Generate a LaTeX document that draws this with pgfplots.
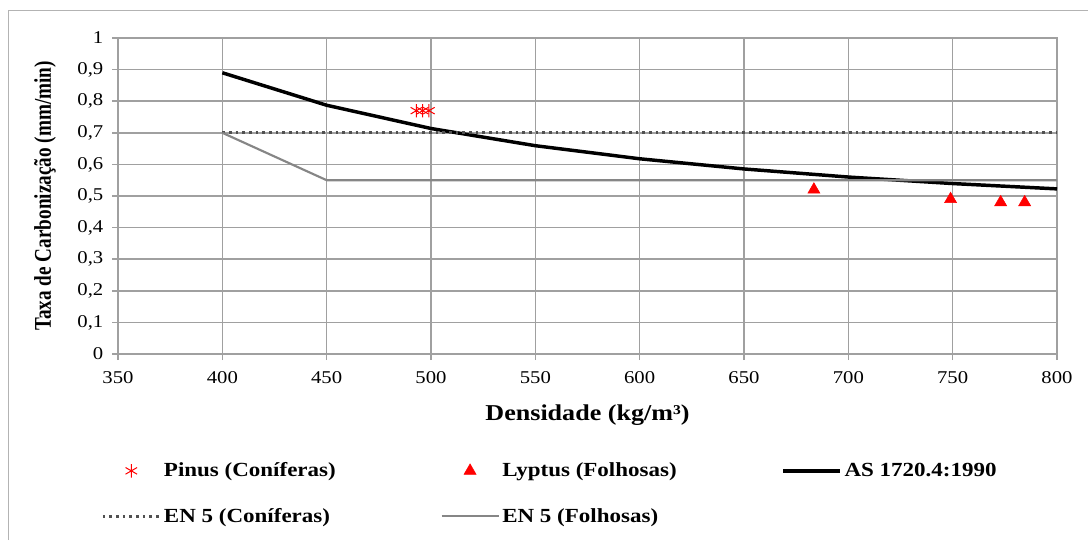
\documentclass[border=0pt]{standalone}
\usepackage{fontspec}
\setmainfont{Liberation Serif}[FakeStretch=1.15]
\newfontfamily\ylabfont{Liberation Serif}[FakeStretch=0.8]
\usepackage{pgfplots}
\pgfplotsset{compat=1.18}
\definecolor{gridgray}{RGB}{160,160,160}
\definecolor{folgray}{RGB}{134,134,134}
\definecolor{dotgray}{RGB}{80,80,80}

\begin{document}
\begin{tikzpicture}[x=0.75pt,y=0.75pt]
\useasboundingbox (0,0) rectangle (1088,540);
\draw[gridgray!80, line width=0.75pt] (8,0) -- (8,529) -- (1088,529);
\begin{axis}[
  at={(88.5pt,139.5pt)}, anchor=south west,
  scale only axis, width=704.25pt, height=237pt,
  xmin=350, xmax=800, ymin=0, ymax=1,
  xtick={350,400,450,500,550,600,650,700,750,800},
  ytick={0,0.1,0.2,0.3,0.4,0.5,0.6,0.7,0.8,0.9,1},
  /pgf/number format/.cd, use comma, 1000 sep={}, assume math mode=true,
  /pgfplots/.cd,
  tick label style={font=\fontsize{13.5}{15}\selectfont, text=black},
  xticklabel style={yshift=-5pt},
  yticklabel style={xshift=-3pt},
  axis line style={gridgray, line width=1.1pt},
  grid=major,
  major grid style={gridgray, line width=1.1pt},
  tick align=outside, xtick pos=left, ytick pos=left,
  major tick length=4.5pt,
  tick style={gridgray, line width=1.1pt},
  clip=false,
  xlabel={Densidade (kg/m³)},
  xlabel style={at={(axis description cs:0.5,-0.193)}, anchor=center,
    font=\bfseries\fontsize{17}{20}\selectfont},
  ylabel={\ylabfont\bfseries Taxa de Carbonização (mm/min)},
  ylabel style={at={(axis description cs:-0.0777,0.5)}, anchor=center,
    font=\fontsize{18}{20}\selectfont},
  legend columns=3,
  legend cell align=left,
  legend image code/.code={\draw[mark repeat=2,mark phase=2,#1]
    plot coordinates {(0pt,0pt) (21.375pt,0pt) (42.75pt,0pt)};},
  legend style={at={(axis description cs:-0.018,-0.335)}, anchor=north west,
    draw=none, fill=none, inner sep=0pt, row sep=18pt,
    font=\bfseries\fontsize{15}{17}\selectfont,
    /tikz/every even column/.append style={column sep=76.5pt}},
]
\addplot[only marks, mark=asterisk, mark size=5pt, red, line width=0.75pt]
  coordinates {(493,0.77) (496,0.77) (499,0.77)};
\addlegendentry{Pinus (Coníferas)}
\addplot[only marks, mark=triangle*, mark size=5.2pt, red]
  coordinates {(683.5,0.52) (749,0.49) (773,0.48) (784.5,0.48)};
\addlegendentry{Lyptus (Folhosas)}
\addplot[black, line width=2.6pt, mark=none]
  coordinates {(400,0.89) (450,0.7872) (500,0.7136) (550,0.6592) (600,0.6178)
    (650,0.5856) (700,0.56) (750,0.5394) (800,0.5225)};
\addlegendentry{AS 1720.4:1990}
\addplot[dotgray, line width=2.2pt, dash pattern=on 2pt off 3pt, mark=none]
  coordinates {(400,0.7) (800,0.7)};
\addlegendentry{EN 5 (Coníferas)}
\addplot[folgray, line width=1.6pt, mark=none]
  coordinates {(400,0.7) (450,0.55) (800,0.55)};
\addlegendentry{EN 5 (Folhosas)}
\end{axis}
\end{tikzpicture}
\end{document}
